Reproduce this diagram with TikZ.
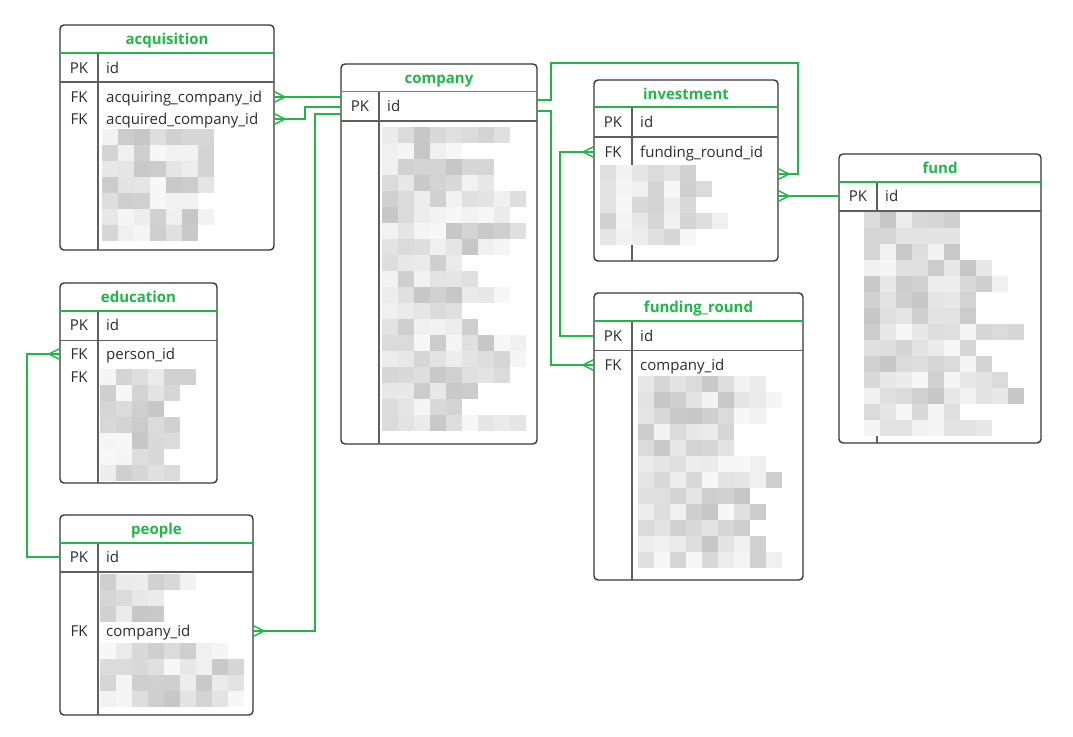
\documentclass[tikz,border=0pt]{standalone}
\usepackage{fontspec}
\setmainfont{Open Sans}
\usetikzlibrary{calc}
\definecolor{erdgreen}{RGB}{32,183,72}
\definecolor{erdborder}{RGB}{55,55,55}
\definecolor{erdline}{RGB}{95,95,95}
\definecolor{erdtext}{RGB}{45,45,45}
\tikzset{
 tbox/.style={draw=erdborder, line width=1.4pt, rounded corners=4pt, fill=white, inner sep=0pt, outer sep=0pt},
 hdrline/.style={draw=erdgreen, line width=1.4pt},
 rowline/.style={draw=erdline, line width=1.1pt},
 ttl/.style={font=\fontsize{15}{18}\selectfont\bfseries, text=erdgreen, inner sep=0pt, anchor=base},
 keytxt/.style={font=\fontsize{15}{18}\selectfont, text=erdtext, inner sep=0pt, anchor=base},
 fieldtxt/.style={font=\fontsize{15}{18}\selectfont, text=erdtext, inner sep=0pt, anchor=base west},
 rel/.style={draw=erdgreen, line width=1.4pt},
 crowfoot/.pic={\draw[rel] (0,-5.5) -- (11,0) -- (0,5.5);},
}
% #1 name #2 x0 #3 y0 #4 x1 #5 y1 #6 header line y #7 divider x #8 title #9 pk line y
\newcommand{\erdbox}[9]{%
 \node[tbox, minimum width={(#4-#2)*1pt}, minimum height={(#5-#3)*1pt}, anchor=north west] (#1) at (#2,#3) {};
 \draw[rowline] (#7,#6) -- (#7,#5);
 \draw[hdrline] (#1.west |- 0,#6) -- (#1.east |- 0,#6);
 \draw[rowline] (#1.west |- 0,#9) -- (#1.east |- 0,#9);
 \node[ttl] (#1-title) at ({(#2+#4)/2},{(#3+#6)/2+5.5}) {#8};
}
% #1 name #2 keyx #3 fieldx #4 cy #5 key #6 field
\newcommand{\erdrow}[6]{%
 \coordinate (#1-y) at (0,#4);
 \node[keytxt] (#1-key) at (#2,{#4+5.5}) {#5};
 \node[fieldtxt] (#1) at (#3,{#4+5.5}) {#6};
}
% #1 x0 #2 y0 #3 x1 #4 y1
\newcommand{\blurcells}[4]{%
 \pgfmathtruncatemacro{\nrw}{(#4-#2)/16}%
 \pgfmathtruncatemacro{\ncl}{(#3-#1)/16}%
 \pgfmathtruncatemacro{\nmn}{\ncl/2+1}%
 \foreach \ri in {1,...,\nrw}{%
   \pgfmathrandominteger{\wid}{\nmn}{\ncl}%
   \foreach \ci in {1,...,\wid}{%
     \pgfmathrandominteger{\shd}{3}{22}%
     \fill[black!\shd] ({#1+16*(\ci-1)},{#2+16*(\ri-1)}) rectangle ++(16,16);
   }
 }
}
\begin{document}
\begin{tikzpicture}[x=1pt,y=-1pt]
\pgfmathsetseed{7}
\useasboundingbox (0,0) rectangle (1073,736);
\fill[white] (0,0) rectangle (1073,736);

% tables
\erdbox{acq}{60}{25}{274}{250}{53}{98}{acquisition}{82}
\blurcells{102}{129}{216}{243}
\erdrow{acqpk}{79}{106}{68}{PK}{id}
\erdrow{acqa}{79}{106}{97}{FK}{acquiring\_company\_id}
\erdrow{acqb}{79}{106}{119}{FK}{acquired\_company\_id}

\erdbox{comp}{341}{64}{537}{444}{91.5}{379}{company}{121}
\blurcells{382}{127}{528}{431}
\erdrow{comppk}{360}{387}{106}{PK}{id}

\erdbox{inv}{594}{80}{778}{261}{107}{632}{investment}{137}
\blurcells{600}{165}{730}{247}
\erdrow{invpk}{613}{640}{122}{PK}{id}
\erdrow{invfk}{613}{640}{152}{FK}{funding\_round\_id}
\coordinate (invx-y) at (0,174);

\erdbox{fund}{839}{154}{1041}{443}{182}{877}{fund}{211}
\blurcells{864}{212}{1026}{437}
\erdrow{fundpk}{858}{885}{196}{PK}{id}

\erdbox{fr}{594}{293}{803}{580}{321}{632}{funding\_round}{350.5}
\blurcells{638}{376}{798}{569}
\erdrow{frpk}{613}{640}{336}{PK}{id}
\erdrow{frfk}{613}{640}{365}{FK}{company\_id}

\erdbox{edu}{60}{283}{217}{483}{311}{98}{education}{340.5}
\blurcells{100}{369}{206}{481}
\erdrow{edupk}{79}{106}{325}{PK}{id}
\erdrow{edufk}{79}{106}{354}{FK}{person\_id}
\erdrow{edufkb}{79}{106}{377}{FK}{}

\erdbox{peo}{60}{515}{253}{715}{543}{98}{people}{572}
\blurcells{100}{574}{196}{622}
\blurcells{100}{643}{246}{707}
\erdrow{peopk}{79}{106}{557}{PK}{id}
\erdrow{peofk}{79}{106}{631}{FK}{company\_id}

% relations
\draw[rel] (acq.east |- acqa-y) -- (comp.west |- acqa-y);
\draw[rel] (acq.east |- acqb-y) -- ++(31,0) |- (comp.west |- 0,107);
\draw[rel] (peo.east |- peofk-y) -- ++(62,0) |- (comp.west |- 0,114);
\draw[rel] (comp.east |- 0,100) -- ++(14,0) |- (798,63) |- (inv.east |- invx-y);
\draw[rel] (comp.east |- 0,111) -- ++(14,0) |- (fr.west |- frfk-y);
\draw[rel] (fr.west |- frpk-y) -- ++(-34,0) |- (inv.west |- invfk-y);
\draw[rel] (fund.west |- fundpk-y) -- (inv.east |- fundpk-y);
\draw[rel] (peo.west |- peopk-y) -- ++(-33,0) |- (edu.west |- edufk-y);

% crow's feet
\path (acq.east |- acqa-y) pic {crowfoot};
\path (acq.east |- acqb-y) pic {crowfoot};
\path (peo.east |- peofk-y) pic {crowfoot};
\path (inv.east |- invx-y) pic {crowfoot};
\path (inv.east |- fundpk-y) pic {crowfoot};
\path (fr.west |- frfk-y) pic[xscale=-1] {crowfoot};
\path (inv.west |- invfk-y) pic[xscale=-1] {crowfoot};
\path (edu.west |- edufk-y) pic[xscale=-1] {crowfoot};
\end{tikzpicture}
\end{document}
